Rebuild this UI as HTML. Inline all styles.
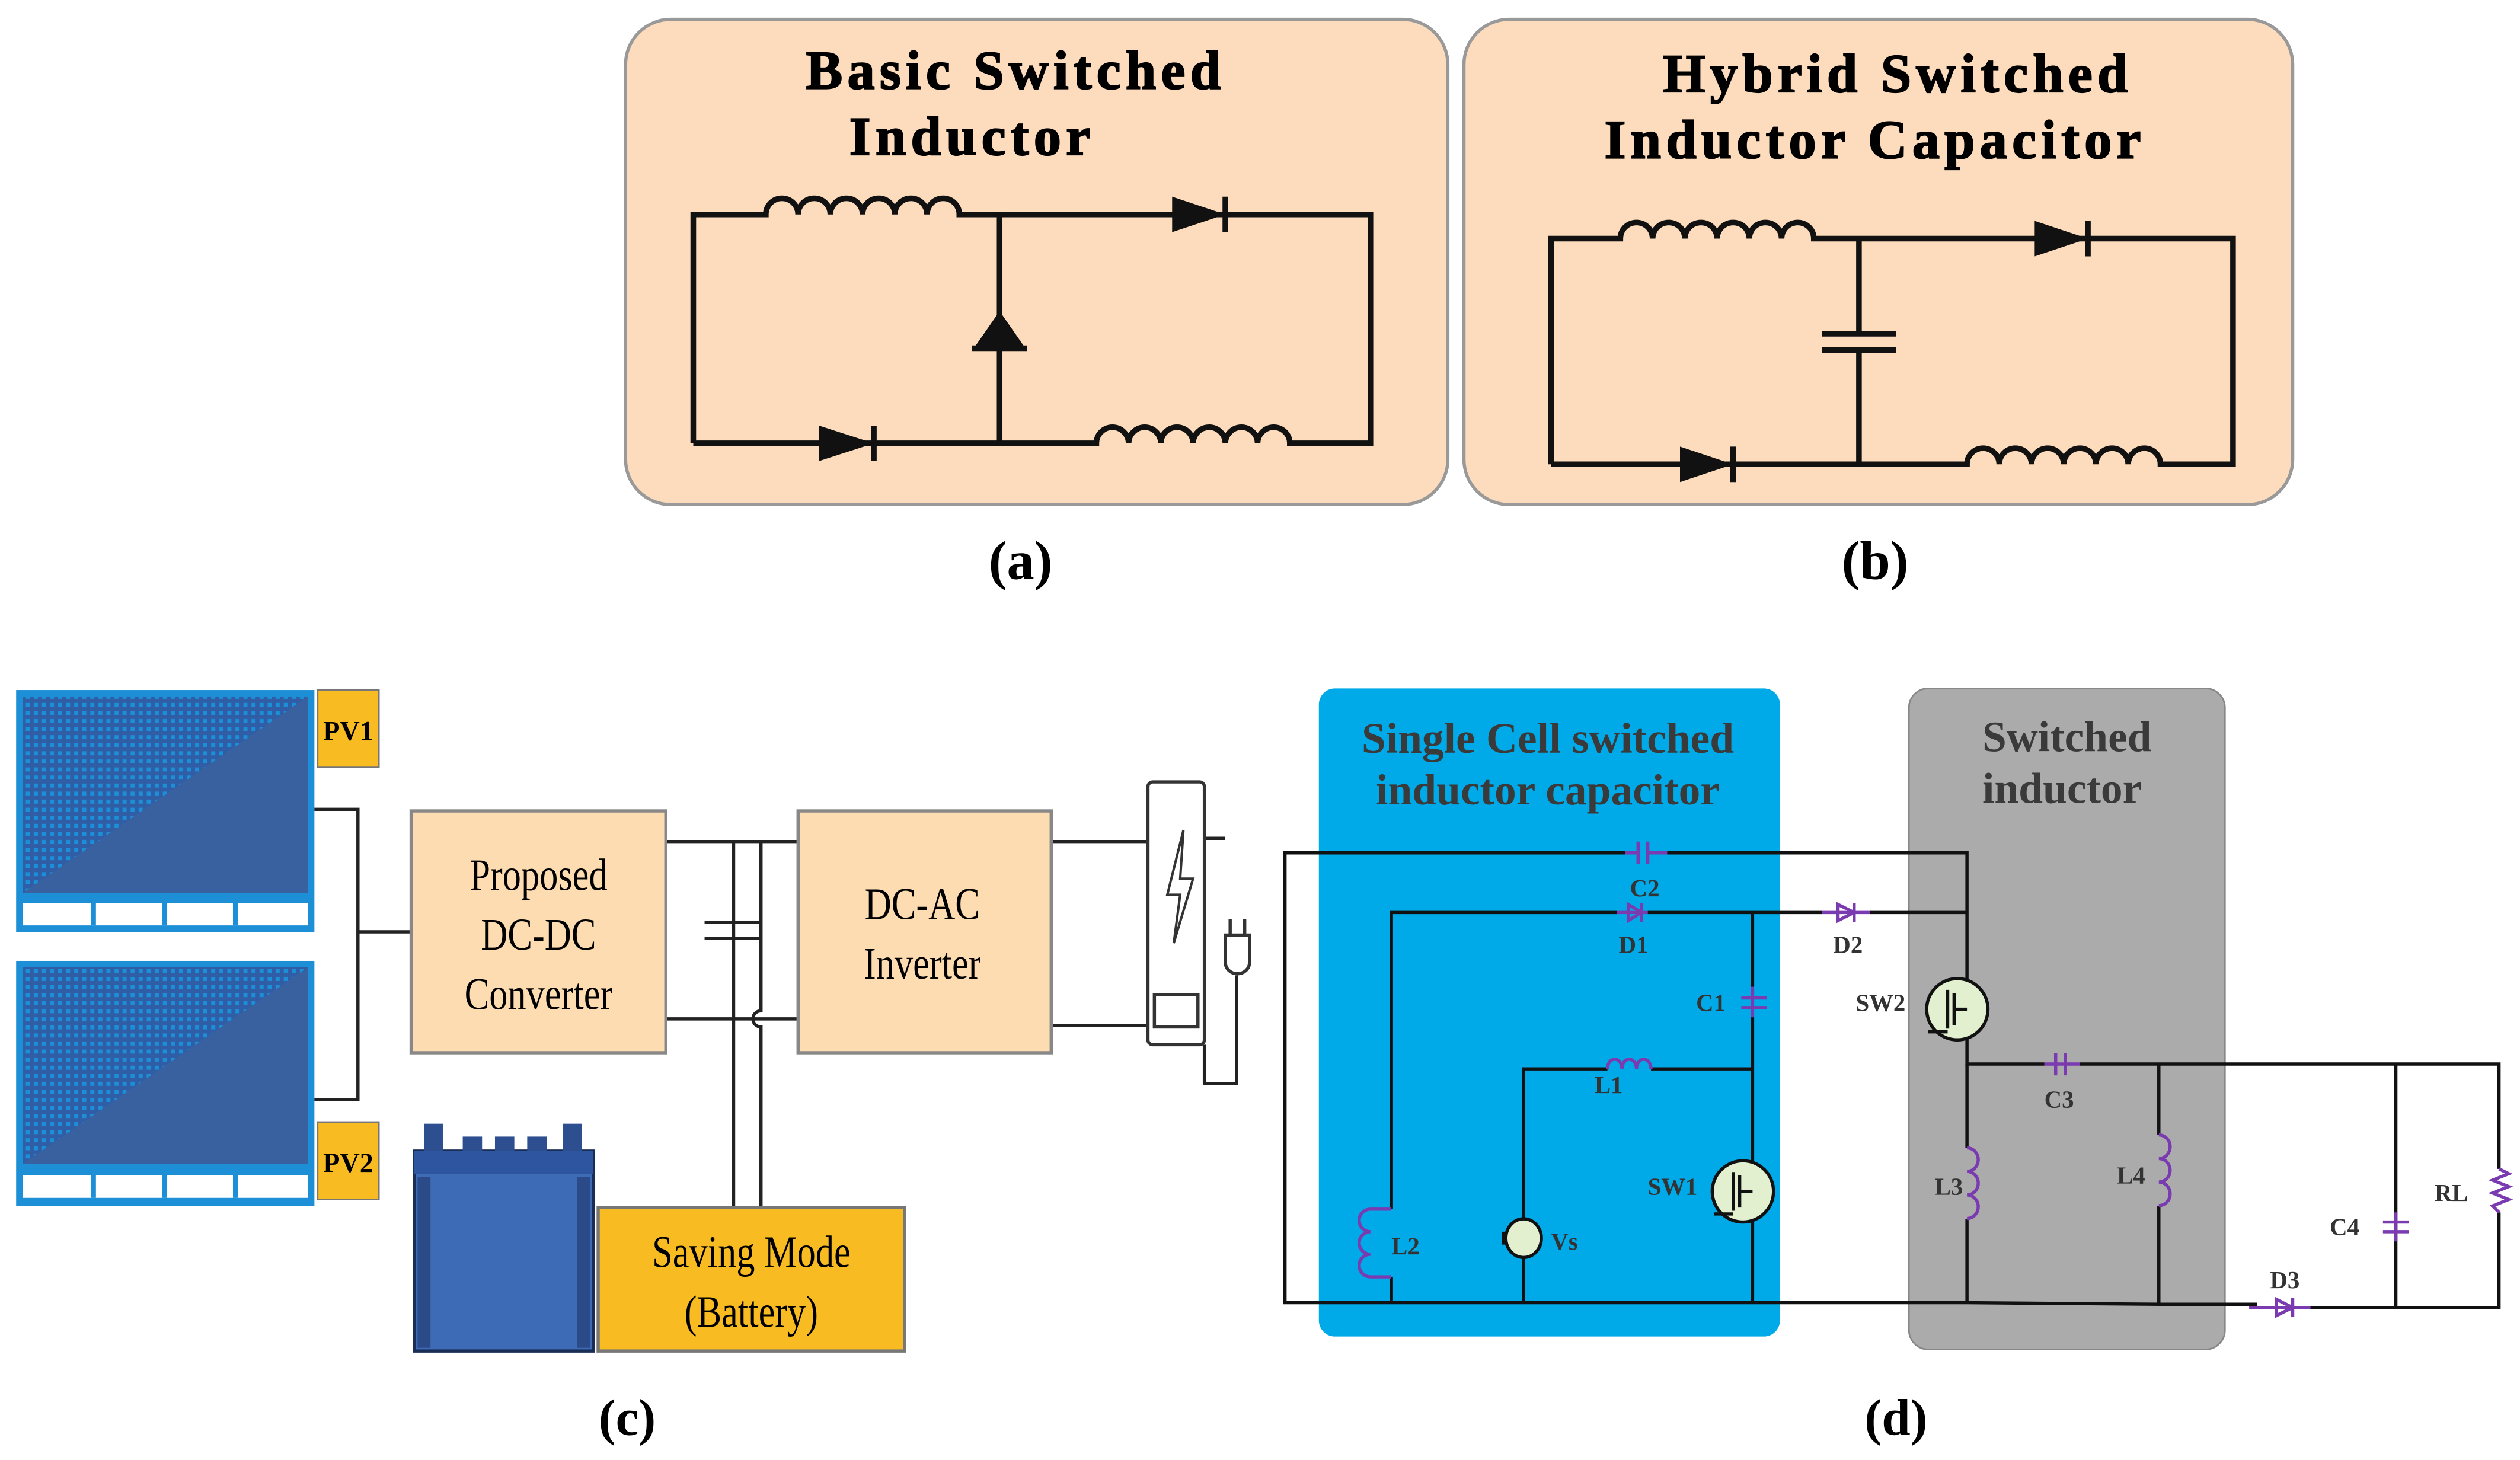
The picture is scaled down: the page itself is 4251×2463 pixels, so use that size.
<!DOCTYPE html>
<html><head><meta charset="utf-8"><style>
html,body{margin:0;padding:0;background:#fff}
svg{display:block}
text{font-family:"Liberation Serif",serif}
</style></head><body>
<svg width="4251" height="2463" viewBox="0 0 1563 905.6" preserveAspectRatio="none" xmlns="http://www.w3.org/2000/svg">
<defs>
<pattern id="dots" width="5" height="5" patternUnits="userSpaceOnUse">
<rect width="5" height="5" fill="#2f5ea6"/><rect x="1" y="1" width="2.5" height="2.5" fill="#1c8fd6"/>
</pattern>
</defs>
<!-- Panel a -->
<rect x="388" y="12" width="510" height="301" rx="28" fill="#fcdcbc" stroke="#999" stroke-width="2"/>
<text x="630" y="55" font-size="34" font-weight="bold" text-anchor="middle" letter-spacing="3" stroke="#000" stroke-width="0.8">Basic Switched</text>
<text x="603" y="96" font-size="34" font-weight="bold" text-anchor="middle" letter-spacing="3" stroke="#000" stroke-width="0.8">Inductor</text>
<g stroke="#111" stroke-width="3.5" fill="none">
<path d="M430 275 V133 H475 a10 10 0 0 1 20 0 a10 10 0 0 1 20 0 a10 10 0 0 1 20 0 a10 10 0 0 1 20 0 a10 10 0 0 1 20 0 a10 10 0 0 1 20 0 H850 V275 H800 a10 10 0 0 0 -20 0 a10 10 0 0 0 -20 0 a10 10 0 0 0 -20 0 a10 10 0 0 0 -20 0 a10 10 0 0 0 -20 0 a10 10 0 0 0 -20 0 H430"/>
<path d="M620 133 V275"/>
<path d="M760 122 V144 M542 264 V286 M603 216 H637"/>
</g>
<path d="M727 122 L760 133 L727 144Z M508 264 L542 275 L508 286Z M604 216 L620 193 L636 216Z" fill="#111"/>
<!-- Panel b -->
<rect x="908" y="12" width="514" height="301" rx="28" fill="#fcdcbc" stroke="#999" stroke-width="2"/>
<text x="1177" y="57" font-size="34" font-weight="bold" text-anchor="middle" letter-spacing="3" stroke="#000" stroke-width="0.8">Hybrid Switched</text>
<text x="1163" y="98" font-size="34" font-weight="bold" text-anchor="middle" letter-spacing="3" stroke="#000" stroke-width="0.8">Inductor Capacitor</text>
<g stroke="#111" stroke-width="3.5" fill="none">
<path d="M962 288 V148 H1005 a10 10 0 0 1 20 0 a10 10 0 0 1 20 0 a10 10 0 0 1 20 0 a10 10 0 0 1 20 0 a10 10 0 0 1 20 0 a10 10 0 0 1 20 0 H1385 V288 H1340 a10 10 0 0 0 -20 0 a10 10 0 0 0 -20 0 a10 10 0 0 0 -20 0 a10 10 0 0 0 -20 0 a10 10 0 0 0 -20 0 a10 10 0 0 0 -20 0 H962"/>
<path d="M1153 148 V207 M1153 217 V288 M1130 207 H1176 M1130 217 H1176"/>
<path d="M1295 137 V159 M1075 277 V299"/>
</g>
<path d="M1262 137 L1295 148 L1262 159Z M1042 277 L1075 288 L1042 299Z" fill="#111"/>
<text x="633" y="359" font-size="34" font-weight="bold" text-anchor="middle">(a)</text>
<text x="1163" y="359" font-size="34" font-weight="bold" text-anchor="middle">(b)</text>
<!-- Panel c -->
<g>
<rect x="10" y="428" width="185" height="150" fill="#1c8fd6"/>
<rect x="14" y="432" width="177" height="122" fill="url(#dots)"/>
<path d="M14 554 L191 432 V554Z" fill="#39619f"/>
<rect x="14" y="560" width="177" height="14" fill="#fff"/>
<rect x="10" y="596" width="185" height="152" fill="#1c8fd6"/>
<rect x="14" y="600" width="177" height="122" fill="url(#dots)"/>
<path d="M14 722 L191 600 V722Z" fill="#39619f"/>
<rect x="14" y="729" width="177" height="14" fill="#fff"/>
<g stroke="#1c8fd6" stroke-width="3"><path d="M58 560V574 M102 560V574 M146 560V574 M58 729V743 M102 729V743 M146 729V743"/></g>
<rect x="197" y="428" width="38" height="48" fill="#f9bb22" stroke="#777"/>
<text x="216" y="459" font-size="17" font-weight="bold" text-anchor="middle">PV1</text>
<rect x="197" y="696" width="38" height="48" fill="#f9bb22" stroke="#777"/>
<text x="216" y="727" font-size="17" font-weight="bold" text-anchor="middle">PV2</text>
<g stroke="#222" stroke-width="2" fill="none">
<path d="M195 502 H222 V682 H195 M222 578 H255"/>
<path d="M413 522 H495 M413 632 H495 M455 522 V748 M472 522 V627 a5 5 0 0 0 0 10 V748 M437 572 H472 M437 582 H472"/>
<path d="M652 522 H712 M652 636 H712 M747 520 H760 M747 648 V672 H767 V605"/>
</g>
<rect x="255" y="503" width="158" height="150" fill="#fcdcb0" stroke="#888" stroke-width="2"/>
<text font-size="28" text-anchor="middle" transform="translate(334,552) scale(0.82,1)">Proposed</text>
<text font-size="28" text-anchor="middle" transform="translate(334,589) scale(0.82,1)">DC-DC</text>
<text font-size="28" text-anchor="middle" transform="translate(334,626) scale(0.82,1)">Converter</text>
<rect x="495" y="503" width="157" height="150" fill="#fcdcb0" stroke="#888" stroke-width="2"/>
<text font-size="28" text-anchor="middle" transform="translate(572,570) scale(0.82,1)">DC-AC</text>
<text font-size="28" text-anchor="middle" transform="translate(572,607) scale(0.82,1)">Inverter</text>
<rect x="712" y="485" width="35" height="163" rx="3" fill="#fff" stroke="#333" stroke-width="2"/>
<path d="M734 515 L724 555 L732 555 L728 585 L740 545 L732 545 Z" fill="none" stroke="#333" stroke-width="1.5"/>
<rect x="716" y="617" width="27" height="20" fill="#fff" stroke="#333" stroke-width="2"/>
<path d="M760 580 H775 V597 a7.5 7 0 0 1 -15 0Z M763 580 V570 M772 580 V570" fill="#fff" stroke="#333" stroke-width="2"/>
<rect x="257" y="714" width="111" height="124" fill="#3e6bb5" stroke="#1a2d55" stroke-width="2"/>
<rect x="257" y="714" width="111" height="14" fill="#2e55a0"/>
<rect x="263" y="697" width="12" height="17" fill="#2e4f8f"/><rect x="287" y="705" width="12" height="9" fill="#2e4f8f"/><rect x="307" y="705" width="12" height="9" fill="#2e4f8f"/><rect x="327" y="705" width="12" height="9" fill="#2e4f8f"/><rect x="349" y="697" width="12" height="17" fill="#2e4f8f"/>
<rect x="259" y="730" width="8" height="106" fill="#2a4a88"/><rect x="358" y="730" width="8" height="106" fill="#2a4a88"/>
<rect x="371" y="749" width="190" height="89" fill="#f9bb22" stroke="#777" stroke-width="2"/>
<text font-size="28" text-anchor="middle" transform="translate(466,786) scale(0.82,1)">Saving Mode</text>
<text font-size="28" text-anchor="middle" transform="translate(466,823) scale(0.82,1)">(Battery)</text>
</g>
<text x="389" y="890" font-size="32" font-weight="bold" text-anchor="middle">(c)</text>
<text x="1176" y="890" font-size="32" font-weight="bold" text-anchor="middle">(d)</text>
<!-- Panel d -->
<rect x="818" y="427" width="286" height="402" rx="10" fill="#00aae8"/>
<rect x="1184" y="427" width="196" height="410" rx="12" fill="#ababab" stroke="#888"/>
<text x="960" y="467" font-size="27" font-weight="bold" fill="#3a3a3a" text-anchor="middle">Single Cell switched</text>
<text x="960" y="499" font-size="27" font-weight="bold" fill="#3a3a3a" text-anchor="middle">inductor capacitor</text>
<text x="1282" y="466" font-size="27" font-weight="bold" fill="#3a3a3a" text-anchor="middle">Switched</text>
<text x="1279" y="498" font-size="27" font-weight="bold" fill="#3a3a3a" text-anchor="middle">inductor</text>
<g stroke="#111" stroke-width="2" fill="none">
<path d="M1008 529 H797 V808 H1220 L1340 809 H1400 M1433 811 H1486 V661 M1034 529 H1220 V614 M1220 638 V660 H1268 M1290 660 H1550 V725 M1550 752 V811 H1486 V770 M1486 752 V661"/>
<path d="M1003 566 H863 V750 M863 792 V808 M1022 566 H1130 M1160 566 H1220 M1087 566 V612 M1087 631 V808 M1087 663 H1024 M997 663 H945 V756 M945 780 V808"/>
<path d="M1220 660 V712 M1220 756 V808 M1339 660 V704 M1339 748 V808"/>
</g>
<g stroke="#7a3ab0" stroke-width="2" fill="none">
<path d="M1008 529 H1016 M1016 522 V536 M1022 522 V536 M1022 529 H1034"/>
<path d="M1003 566 H1022 M1130 566 H1160 M1395 811 H1433 M1268 660 H1290 M1275 653 V667 M1281 653 V667"/>
<path d="M1087 612 V631 M1080 619 H1096 M1080 625 H1096 M1486 752 V770 M1478 758 H1494 M1478 764 H1494"/>
<path d="M997 663 a4.5 6 0 0 1 9 0 a4.5 6 0 0 1 9 0 a4.5 6 0 0 1 9 0"/>
<path d="M863 750 H850 a7 7 0 0 0 0 14 a7 7 0 0 0 0 14 a7 7 0 0 0 0 14 H863"/>
<path d="M1220 712 a7 7.3 0 0 1 0 14.6 a7 7.3 0 0 1 0 14.6 a7 7.3 0 0 1 0 14.6"/>
<path d="M1339 704 a7 7.3 0 0 1 0 14.6 a7 7.3 0 0 1 0 14.6 a7 7.3 0 0 1 0 14.6"/>
<path d="M1550 725 l6 3 l-10 4 l10 4 l-10 4 l10 4 l-10 4 l4 4"/>
</g>
<path d="M1010 561 L1018 566 L1010 571Z M1140 561 L1150 566 L1140 571Z M1412 806 L1422 811 L1412 816Z" fill="none" stroke="#7a3ab0" stroke-width="2"/>
<path d="M1018 560 V572 M1150 560 V572 M1422 805 V817" stroke="#7a3ab0" stroke-width="2"/>
<g stroke="#111" stroke-width="2">
<circle cx="1214" cy="626" r="19" fill="#e2f0cf"/>
<circle cx="1081" cy="739" r="19" fill="#e2f0cf"/>
<ellipse cx="945" cy="768" rx="11" ry="12" fill="#e2f0cf"/>
<path d="M1208 614 V638 M1212 616 V636 M1212 626 H1220 M1196 640 H1208 M1075 727 V751 M1079 729 V749 M1079 739 H1087 M1063 753 H1075" fill="none"/>
<path d="M933 764 V772" stroke-width="3"/>
</g>
<g font-size="15" font-weight="bold" fill="#333">
<text x="1011" y="556">C2</text><text x="1004" y="591">D1</text><text x="1137" y="591">D2</text>
<text x="1052" y="627">C1</text><text x="1151" y="627">SW2</text><text x="989" y="678">L1</text>
<text x="1268" y="687">C3</text><text x="1022" y="741">SW1</text><text x="1200" y="741">L3</text>
<text x="1313" y="734">L4</text><text x="1510" y="745">RL</text><text x="1445" y="766">C4</text>
<text x="863" y="778">L2</text><text x="962" y="775">Vs</text><text x="1408" y="799">D3</text>
</g>
</svg>
</body></html>
